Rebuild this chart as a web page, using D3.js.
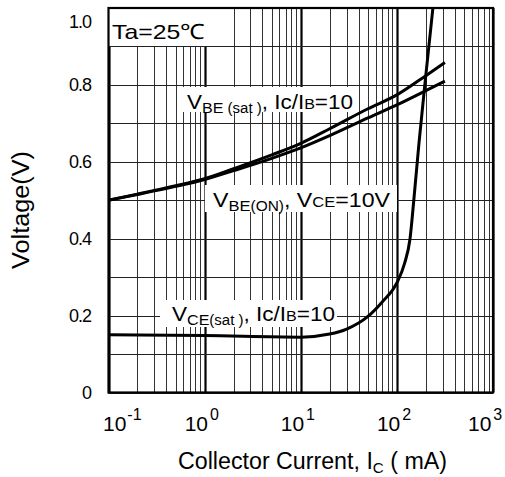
<!DOCTYPE html>
<html>
<head>
<meta charset="utf-8">
<script src="https://cdn.jsdelivr.net/npm/d3@7"></script>
<style>
	body { margin: 0; background: #fff; }
	text { font-family: "Liberation Sans", Arial, sans-serif; fill: #000; }
</style>
</head>
<body>
<div id="chart"></div>
<script>
// collector current (mA) and voltages
var currentBE = [0.1, 0.2, 0.5, 1, 2, 5, 10, 20, 50, 100, 200, 316];
var vbeSat = [0.5, 0.516, 0.538, 0.556, 0.582, 0.618, 0.648, 0.686, 0.738, 0.774, 0.824, 0.858];
var vbeOn = [0.5, 0.515, 0.536, 0.554, 0.577, 0.609, 0.636, 0.668, 0.714, 0.748, 0.785, 0.81];

var currentCE = [0.1, 1, 10, 20, 30, 50, 70, 100, 120, 137, 150, 170, 200, 237];
var vceSat = [0.15, 0.148, 0.144, 0.152, 0.165, 0.198, 0.235, 0.285, 0.335, 0.4, 0.5, 0.65, 0.825, 1.0];

var xTickExp = [-1, 0, 1, 2, 3];
var yTickValues = [0, 0.2, 0.4, 0.6, 0.8, 1.0];

var width = 505,
	height = 477,
	margin = {
		left: 108.5,
		right: 12,
		top: 8,
		bottom: 84.5
	};

var x = d3.scaleLog()
	.domain([0.1, 1000])
	.range([margin.left, width - margin.right]);

var y = d3.scaleLinear()
	.domain([0, 1])
	.range([height - margin.bottom, margin.top]);

var svg = d3.select('#chart').append('svg')
	.attr('width', width)
	.attr('height', height);

svg.append('rect')
	.attr('width', width)
	.attr('height', height)
	.attr('fill', '#fff');

// vertical grid, decades drawn heavier
var grid = svg.append('g');
grid.selectAll('.vx')
	.data(x.ticks())
	.enter().append('line')
	.attr('x1', function(d) { return Math.round(x(d)) + 0.5; })
	.attr('x2', function(d) { return Math.round(x(d)) + 0.5; })
	.attr('y1', y(1))
	.attr('y2', y(0))
	.attr('stroke', function(d) {
		var l = Math.log10(d);
		return Math.abs(l - Math.round(l)) < 1e-6 ? '#000' : '#333';
	})
	.attr('stroke-width', function(d) {
		var l = Math.log10(d);
		return Math.abs(l - Math.round(l)) < 1e-6 ? 2.2 : 1;
	});

grid.selectAll('.hy')
	.data(y.ticks(10))
	.enter().append('line')
	.attr('x1', x(0.1))
	.attr('x2', x(1000))
	.attr('y1', function(d) { return Math.round(y(d)) + 0.5; })
	.attr('y2', function(d) { return Math.round(y(d)) + 0.5; })
	.attr('stroke', '#222')
	.attr('stroke-width', 1);

// white boxes behind the labels
var boxes = [
	[108, 8, 107, 38],
	[183, 87, 174, 25],
	[205, 185, 192, 27],
	[160, 300, 177, 27]
];
svg.selectAll('.box')
	.data(boxes)
	.enter().append('rect')
	.attr('x', function(d) { return d[0]; })
	.attr('y', function(d) { return d[1]; })
	.attr('width', function(d) { return d[2]; })
	.attr('height', function(d) { return d[3]; })
	.attr('fill', '#fff');

// frame
svg.append('rect')
	.attr('x', x(0.1))
	.attr('y', y(1))
	.attr('width', x(1000) - x(0.1))
	.attr('height', y(0) - y(1))
	.attr('fill', 'none')
	.attr('stroke', '#000')
	.attr('stroke-width', 2.2);

var line = d3.line()
	.x(function(d) { return x(d[0]); })
	.y(function(d) { return y(d[1]); })
	.curve(d3.curveMonotoneX);

[[currentBE, vbeSat], [currentBE, vbeOn], [currentCE, vceSat]].forEach(function(s) {
	svg.append('path')
		.attr('d', line(d3.zip(s[0], s[1])))
		.attr('fill', 'none')
		.attr('stroke', '#000')
		.attr('stroke-width', 3);
});

// y tick labels
svg.selectAll('.ylab')
	.data(yTickValues)
	.enter().append('text')
	.attr('x', 91)
	.attr('y', function(d) { return Math.max(y(d), 22) + 6; })
	.attr('text-anchor', 'end')
	.attr('font-size', 18)
	.attr('letter-spacing', -1)
	.text(function(d) { return d === 0 ? '0' : d.toFixed(1); });

// x tick labels: 10 with superscript exponent
xTickExp.forEach(function(e) {
	var cx = x(Math.pow(10, e)) - 3;
	var w = 34;
	var left = Math.min(Math.max(cx - w / 2, 103), width - 3 - w);
	var t = svg.append('text')
		.attr('x', left)
		.attr('y', 431)
		.attr('font-size', 21);
	t.append('tspan').text('10');
	t.append('tspan')
		.attr('font-size', 16)
		.attr('dy', -11)
		.attr('dx', e < 0 ? 1 : 2)
		.text(e);
});

// axis titles
svg.append('text')
	.attr('transform', 'translate(29,210) rotate(-90)')
	.attr('text-anchor', 'middle')
	.attr('font-size', 23)
	.attr('textLength', 118)
	.attr('lengthAdjust', 'spacingAndGlyphs')
	.text('Voltage(V)');

var xt = svg.append('text')
	.attr('x', 178)
	.attr('y', 469)
	.attr('font-size', 23)
	.attr('textLength', 269)
	.attr('lengthAdjust', 'spacingAndGlyphs');
xt.append('tspan').text('Collector Current, I');
xt.append('tspan').attr('font-size', 15).attr('dy', 4).text('C');
xt.append('tspan').attr('dy', -4).text(' ( mA)');

// labels
svg.append('text')
	.attr('x', 112)
	.attr('y', 39)
	.attr('font-size', 21)
	.attr('textLength', 93)
	.attr('lengthAdjust', 'spacingAndGlyphs')
	.text('Ta=25\u2103');

function label(xp, yp, len, parts) {
	var t = svg.append('text')
		.attr('x', xp)
		.attr('y', yp)
		.attr('textLength', len)
		.attr('lengthAdjust', 'spacingAndGlyphs');
	parts.forEach(function(p) {
		t.append('tspan')
			.attr('font-size', p[1])
			.attr('dy', p[2])
			.text(p[0]);
	});
}

label(187, 109, 166, [['V', 21, 0], ['BE', 15, 4], [' (sat )', 14, 0], [', Ic/I', 21, -4], ['B', 15, 0], ['=10', 21, 0]]);
label(213, 207, 177, [['V', 21, 0], ['BE', 15, 4], ['(ON)', 14, 0], [',  V', 21, -4], ['CE', 15, 0], ['=10V', 21, 0]]);
label(172, 321, 163, [['V', 21, 0], ['CE', 15, 4], ['(sat )', 14, 0], [', Ic/I', 21, -4], ['B', 15, 0], ['=10', 21, 0]]);
</script>
</body>
</html>
